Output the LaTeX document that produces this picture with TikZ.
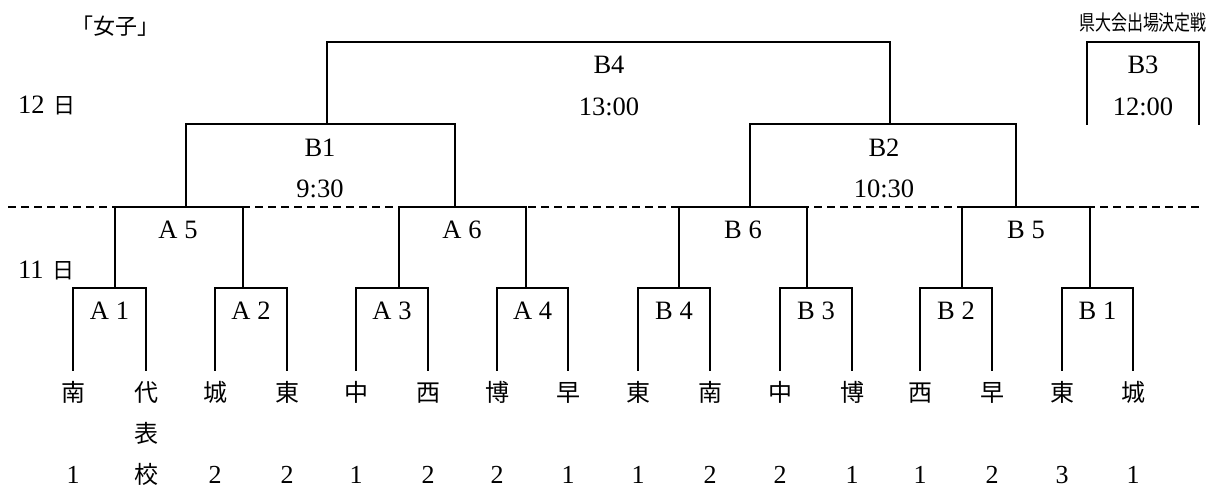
\documentclass[tikz,border=0pt]{standalone}
\usepackage{fontspec}
\usetikzlibrary{calc}
\setmainfont{Liberation Serif}
\newfontfamily\cjk{Noto Sans CJK JP}
\begin{document}
\begin{tikzpicture}[x=1pt,y=-1pt,
  line/.style={line width=2pt,line cap=rect},
  dline/.style={line width=2pt,dash pattern=on 8pt off 5pt},
  lab/.style={inner sep=0pt,anchor=base,font=\fontsize{26.5}{30}\selectfont},
  nm/.style={inner sep=0pt,anchor=base,font=\cjk\fontsize{24}{28}\selectfont},
  num/.style={inner sep=0pt,anchor=base,font=\fontsize{26}{30}\selectfont}]
\useasboundingbox (0,0) rectangle (1210,488);
% titles
\node[inner sep=0pt,anchor=base,font=\cjk\fontsize{22}{26}\selectfont] (title) at (115,34) {「女子」};
\node[inner sep=0pt,anchor=base,font=\cjk\fontsize{21}{24}\selectfont] (final) at (1143,30) {\scalebox{0.76}[1]{県大会出場決定戦}};
\node[lab,anchor=base west] (d12) at (18,113) {12\hspace{9pt}{\cjk\fontsize{22}{26}\selectfont 日}};
\node[lab,anchor=base west] (d11) at (18,278) {11\hspace{9pt}{\cjk\fontsize{22}{26}\selectfont 日}};
% day separator
\coordinate (sepL) at (8,207);
\coordinate (sepR) at (1200,207);
\draw[dline] (sepL) -- (sepR);
% leg coordinates
\foreach \i/\x in {1/73,2/146,3/215,4/287,5/356,6/428,7/497,8/568,9/638,10/710,11/780,12/852,13/920,14/992,15/1062,16/1133}{
  \coordinate (b\i) at (\x,370);
}
% first round brackets
\foreach \l/\r in {1/2,3/4,5/6,7/8,9/10,11/12,13/14,15/16}{
  \draw[line] (b\l) |- ($(b\r)+(0,-82)$) -- (b\r);
}
% second round
\foreach \a/\b in {115/243,399/526,679/807,962/1090}{
  \draw[line] (\a,288) |- (\b,207) -- (\b,288);
}
% third round
\draw[line] (186,207) |- (455,124) -- (455,207);
\draw[line] (750,207) |- (1016,124) -- (1016,207);
% final
\draw[line] (327,124) |- (890,42) -- (890,124);
% B3 match
\draw[line] (1087,124) |- (1199,42) -- (1199,124);
% labels
\node[lab] (mB4) at (609,73) {B4};
\node[lab] (tB4) at (609,115) {13:00};
\node[lab] (mB3) at (1143,73) {B3};
\node[lab] (tB3) at (1143,115) {12:00};
\node[lab] (mB1) at (320,156) {B1};
\node[lab] (tB1) at (320,197) {9:30};
\node[lab] (mB2) at (884,156) {B2};
\node[lab] (tB2) at (884,197) {10:30};
\node[lab] (mA5) at (178,238) {A 5};
\node[lab] (mA6) at (462,238) {A 6};
\node[lab] (mB6) at (743,238) {B 6};
\node[lab] (mB5) at (1026,238) {B 5};
\foreach \t/\x in {A 1/109.5,A 2/251,A 3/392,A 4/532.5,B 4/674,B 3/816,B 2/956,B 1/1097.5}{
  \node[lab] at (\x,319) {\t};
}
% teams
\foreach \t/\x/\n in {南/73/1,代/146/{\cjk\fontsize{24}{28}\selectfont 校},城/215/2,東/287/2,中/356/1,西/428/2,博/497/2,早/568/1,東/638/1,南/710/2,中/780/2,博/852/1,西/920/1,早/992/2,東/1062/3,城/1133/1}{
  \node[nm] at (\x,401) {\t};
  \node[num] at (\x,483) {\n};
}
\node[nm] (hyo) at (146,442) {表};
\end{tikzpicture}
\end{document}
